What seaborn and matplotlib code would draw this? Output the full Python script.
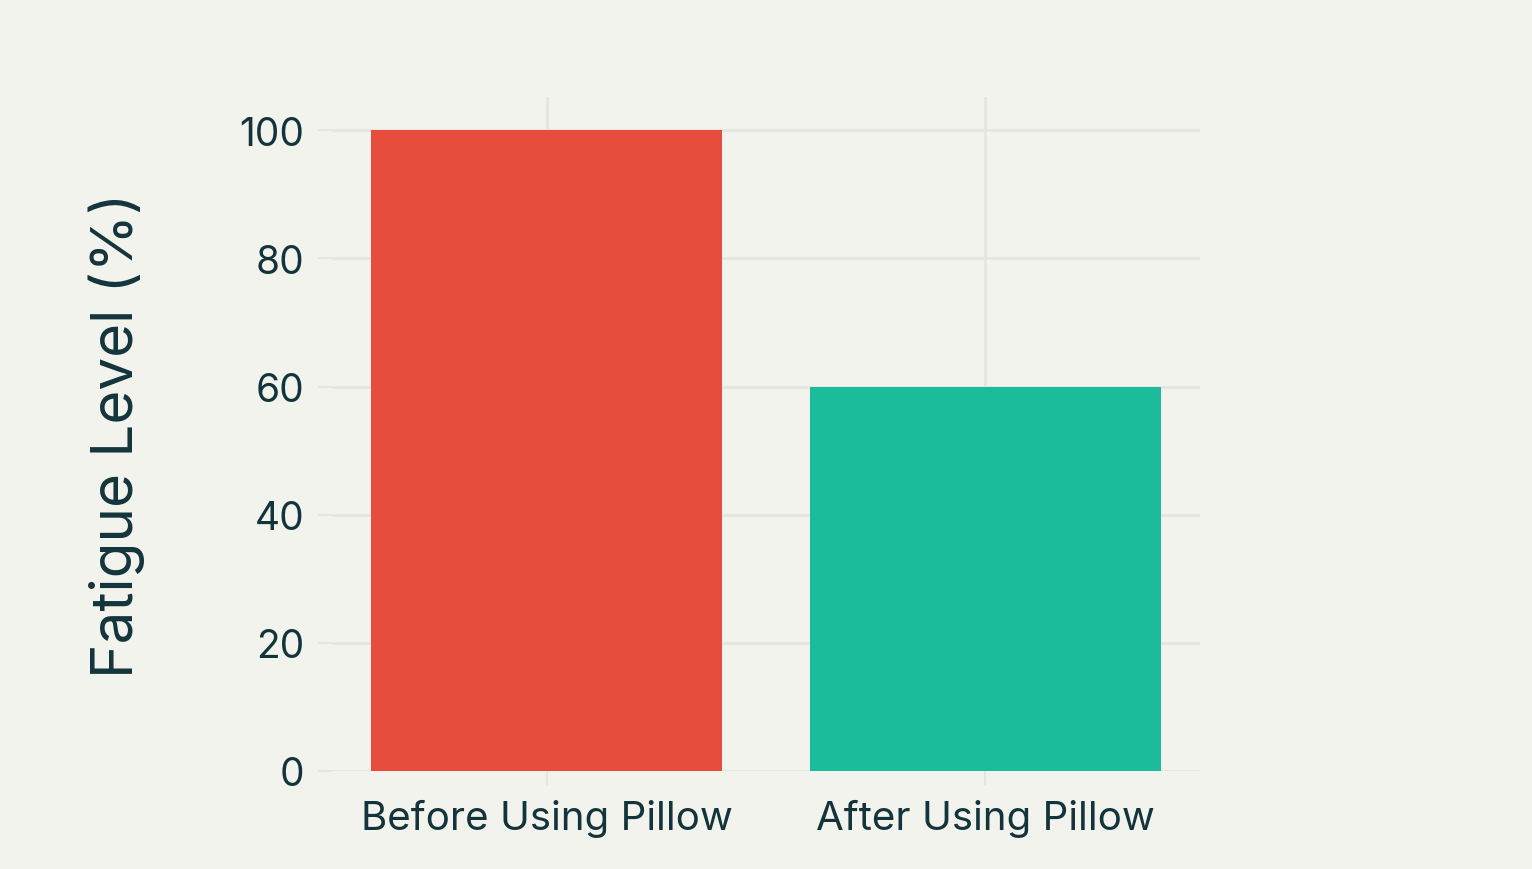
import matplotlib
matplotlib.use("Agg")
import matplotlib.pyplot as plt
import seaborn as sns
import pandas as pd

# chart data
stages = ["Before Using Pillow", "After Using Pillow"]
fatigue = [100, 60]
bar_colors = ["#E74C3C", "#1ABC9C"]

BG = "#F3F3EE"
TEXT = "#13343B"
GRID = "#E6E6E1"

df = pd.DataFrame({"Stage": stages, "Fatigue": fatigue})

sns.set_style("white")
plt.rcParams["font.family"] = ["Inter", "DejaVu Sans"]

fig = plt.figure(figsize=(15.32, 8.7), dpi=100, facecolor=BG)
ax = fig.add_axes([332 / 1532, (870 - 772) / 870, (1200 - 332) / 1532, (772 - 98) / 870])
ax.set_facecolor(BG)

sns.barplot(data=df, x="Stage", y="Fatigue", hue="Stage", palette=bar_colors,
            width=0.8, saturation=1, legend=False, ax=ax, zorder=3,
            linewidth=0, edgecolor="none")

ax.set_xlim(-0.49, 1.49)
ax.set_ylim(0, 105.2)
ax.set_yticks([0, 20, 40, 60, 80, 100])
ax.grid(True, color=GRID, linewidth=2, zorder=0)
ax.set_axisbelow(True)
for s in ax.spines.values():
    s.set_visible(False)

ax.tick_params(axis="both", bottom=True, left=True, length=10, width=1.5,
               color=GRID, labelcolor=TEXT, labelsize=28)
ax.tick_params(axis="x", labelsize=29, pad=10)
ax.tick_params(axis="y", pad=10)
ax.set_xlabel("")
ax.set_ylabel("Fatigue Level (%)", fontsize=42, color=TEXT, labelpad=68)

plt.savefig("out.png", dpi=100, facecolor=BG)
